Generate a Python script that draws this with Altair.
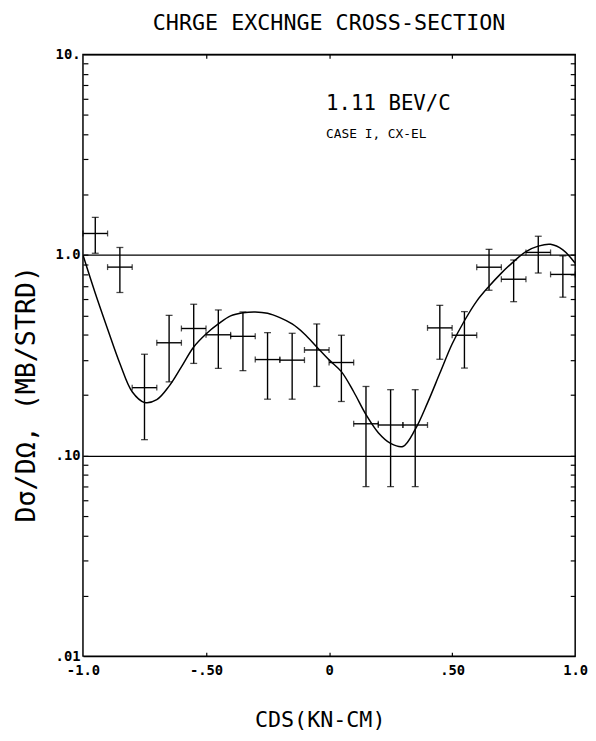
import altair as alt
import pandas as pd

# ---- measured data points (cos, dsigma/dOmega) with error bars ----
x_pts = [-0.95, -0.85, -0.75, -0.65, -0.55, -0.45, -0.35, -0.25, -0.15, -0.05,
         0.05, 0.15, 0.25, 0.35, 0.45, 0.55, 0.65, 0.75, 0.85, 0.95]
x_lo = [-1.0, -0.9, -0.8, -0.7, -0.6, -0.5, -0.4, -0.3, -0.2, -0.1,
        0.0, 0.1, 0.2, 0.3, 0.4, 0.5, 0.6, 0.7, 0.8, 0.9]
x_hi = [-0.9, -0.8, -0.7, -0.6, -0.5, -0.4, -0.3, -0.2, -0.1, 0.0,
        0.1, 0.2, 0.3, 0.4, 0.5, 0.6, 0.7, 0.8, 0.9, 1.0]
y_pts = [1.28, 0.87, 0.218, 0.365, 0.43, 0.40, 0.393, 0.301, 0.299, 0.336,
         0.291, 0.144, 0.142, 0.142, 0.433, 0.398, 0.869, 0.757, 1.03, 0.80]
y_lo = [1.02, 0.65, 0.12, 0.233, 0.288, 0.272, 0.265, 0.191, 0.191, 0.221,
        0.186, 0.070, 0.070, 0.070, 0.302, 0.273, 0.667, 0.585, 0.813, 0.616]
y_hi = [1.54, 1.09, 0.32, 0.50, 0.568, 0.532, 0.52, 0.41, 0.407, 0.453,
        0.398, 0.221, 0.213, 0.213, 0.561, 0.522, 1.067, 0.944, 1.24, 0.99]

# ---- fitted curve ----
curve_x = [-1.0, -0.95, -0.9, -0.85, -0.8, -0.75, -0.7, -0.65, -0.6, -0.55,
           -0.5, -0.45, -0.4, -0.35, -0.3, -0.25, -0.2, -0.15, -0.1, -0.05,
           0.0, 0.05, 0.1, 0.15, 0.2, 0.25, 0.3, 0.35, 0.4, 0.45,
           0.5, 0.55, 0.6, 0.65, 0.7, 0.75, 0.8, 0.85, 0.9, 0.95, 1.0]
curve_y = [1.0, 0.645, 0.428, 0.288, 0.208, 0.184, 0.19, 0.222, 0.277, 0.348,
           0.404, 0.453, 0.497, 0.515, 0.52, 0.512, 0.487, 0.453, 0.404, 0.348,
           0.30, 0.262, 0.208, 0.160, 0.130, 0.115, 0.111, 0.135, 0.183, 0.257,
           0.360, 0.470, 0.589, 0.698, 0.812, 0.927, 1.04, 1.107, 1.13, 1.06, 0.91]

# ---- axis ticks ----
x_tick_vals = [-1.0, -0.5, 0.0, 0.5, 1.0]
x_tick_labels = ["-1.0", "-.50", "0", ".50", "1.0"]
y_tick_vals = [0.01, 0.1, 1.0, 10.0]
y_tick_labels = [".01", ".10", "1.0", "10."]
y_minor_vals = [0.02, 0.03, 0.04, 0.05, 0.06, 0.07, 0.08, 0.09, 0.1,
                0.2, 0.3, 0.4, 0.5, 0.6, 0.7, 0.8, 0.9, 1.0,
                2, 3, 4, 5, 6, 7, 8, 9]
x_minor_vals = [-0.5, 0.0, 0.5]

notes_big = ["1.11 BEV/C"]
notes_small = ["CASE I, CX-EL"]
note_x = [-0.012]
note_big_y = [5.64]
note_small_y = [4.01]

W, H = 499, 610
FONT = "DejaVu Sans Mono"

df = pd.DataFrame({"x": x_pts, "xlo": x_lo, "xhi": x_hi,
                   "y": y_pts, "ylo": y_lo, "yhi": y_hi})
curve = pd.DataFrame({"x": curve_x, "y": curve_y})


def label_expr(vals, labels):
    expr = "''"
    for v, l in zip(vals, labels):
        expr = f"abs(datum.value - ({v})) < 1e-9 ? '{l}' : " + expr
    return expr


xs = alt.Scale(domain=[-1, 1], nice=False, zero=False)
ys = alt.Scale(type="log", domain=[0.01, 10], nice=False)

x_main = alt.Axis(values=x_tick_vals, labelExpr=label_expr(x_tick_vals, x_tick_labels),
                  title="CDS(KN-CM)", titleFont=FONT, titleFontSize=22,
                  titleFontWeight="normal", titleX=240, titleY=64,
                  titleBaseline="middle", labelFont=FONT, labelFontSize=14,
                  labelFontWeight="bold", labelColor="black", titleColor="black",
                  ticks=False, domain=False, grid=False, labelPadding=8,
                  labelFlush=False)
y_main = alt.Axis(values=y_tick_vals, labelExpr=label_expr(y_tick_vals, y_tick_labels),
                  title="D\u03c3/D\u03a9, (MB/STRD)", titleFont=FONT, titleFontSize=27,
                  titleFontWeight="normal", titleX=-57, titleY=344,
                  titleBaseline="middle", titleAlign="center",
                  titleColor="black", labelFont=FONT, labelFontSize=14,
                  labelFontWeight="bold", labelColor="black",
                  ticks=False, domain=False, grid=True, gridColor="black",
                  gridWidth=1.4, gridOpacity=1, labelPadding=3, labelFlush=False)

y_in_left = alt.Axis(orient="right", offset=-W, values=y_minor_vals, labels=False,
                     title=None, domain=False, grid=False, tickSize=5,
                     tickColor="black", tickWidth=1.2)
y_in_right = alt.Axis(orient="left", offset=-W, values=y_minor_vals, labels=False,
                      title=None, domain=False, grid=False, tickSize=5,
                      tickColor="black", tickWidth=1.2)
x_in_bottom = alt.Axis(orient="top", offset=-H, values=x_minor_vals, labels=False,
                       title=None, domain=False, grid=False, tickSize=4,
                       tickColor="black", tickWidth=1.2)
x_in_top = alt.Axis(orient="bottom", offset=-H, values=x_minor_vals, labels=False,
                    title=None, domain=False, grid=False, tickSize=4,
                    tickColor="black", tickWidth=1.2)

base = alt.Chart(df)
stroke = dict(color="black", strokeWidth=1.4)

vbars = base.mark_rule(**stroke).encode(
    x=alt.X("x:Q", scale=xs, axis=x_main),
    y=alt.Y("ylo:Q", scale=ys, axis=y_main),
    y2="yhi:Q")
hbars = base.mark_rule(**stroke).encode(
    x=alt.X("xlo:Q", scale=xs, axis=x_in_bottom),
    x2="xhi:Q",
    y=alt.Y("y:Q", scale=ys, axis=y_in_left))
cap_lo = base.mark_tick(orient="horizontal", size=7, thickness=1.3, color="black").encode(
    x=alt.X("x:Q", scale=xs, axis=x_in_top),
    y=alt.Y("ylo:Q", scale=ys, axis=y_in_right))
cap_hi = base.mark_tick(orient="horizontal", size=7, thickness=1.3, color="black").encode(
    x=alt.X("x:Q", scale=xs, axis=None),
    y=alt.Y("yhi:Q", scale=ys, axis=None))
cap_l = base.mark_tick(orient="vertical", size=6, thickness=1.3, color="black").encode(
    x=alt.X("xlo:Q", scale=xs, axis=None),
    y=alt.Y("y:Q", scale=ys, axis=None))
cap_r = base.mark_tick(orient="vertical", size=6, thickness=1.3, color="black").encode(
    x=alt.X("xhi:Q", scale=xs, axis=None),
    y=alt.Y("y:Q", scale=ys, axis=None))

line = alt.Chart(curve).mark_line(color="black", strokeWidth=1.5,
                                  interpolate="catmull-rom", clip=True).encode(
    x=alt.X("x:Q", scale=xs, axis=None),
    y=alt.Y("y:Q", scale=ys, axis=None))

t_big = alt.Chart(pd.DataFrame({"x": note_x, "y": note_big_y, "t": notes_big})).mark_text(
    font=FONT, fontSize=21, align="left", baseline="middle", color="black").encode(
    x=alt.X("x:Q", scale=xs, axis=None), y=alt.Y("y:Q", scale=ys, axis=None), text="t:N")
t_small = alt.Chart(pd.DataFrame({"x": note_x, "y": note_small_y, "t": notes_small})).mark_text(
    font=FONT, fontSize=13, align="left", baseline="middle", color="black").encode(
    x=alt.X("x:Q", scale=xs, axis=None), y=alt.Y("y:Q", scale=ys, axis=None), text="t:N")

chart = alt.layer(vbars, hbars, cap_lo, cap_hi, cap_l, cap_r, line, t_big, t_small).resolve_axis(
    x="independent", y="independent"
).properties(
    width=W, height=H,
    title=alt.TitleParams("CHRGE EXCHNGE CROSS-SECTION", font=FONT, fontSize=22,
                          fontWeight="normal", color="black", offset=13, anchor="middle"),
    padding={"left": 76, "top": 42, "right": 13, "bottom": 81},
    autosize=alt.AutoSizeParams(type="none"),
    background="white",
).configure_view(stroke="black", strokeWidth=1.5)

chart.save("out.html", embed_options={"renderer": "svg", "actions": False})
